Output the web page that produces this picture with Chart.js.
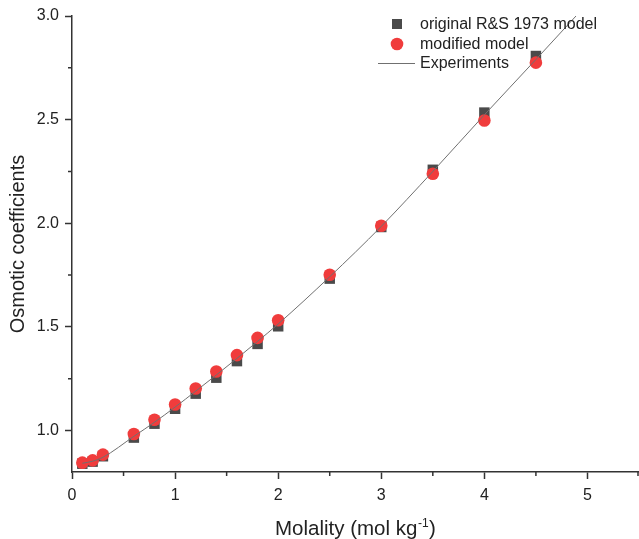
<!DOCTYPE html>
<html>
<head>
<meta charset="utf-8">
<script src="https://cdn.jsdelivr.net/npm/chart.js@4"></script>
<style>
  html, body { margin: 0; padding: 0; background: #fff; }
  canvas { display: block; }
</style>
</head>
<body>
<canvas id="osmotic" width="639" height="539"></canvas>
<script>
const FONT = "'Liberation Sans', Arial, sans-serif";

// model points (mol/kg vs osmotic coefficient)
const molality = [0.1, 0.2, 0.3, 0.6, 0.8, 1.0, 1.2, 1.4, 1.6, 1.8, 2.0, 2.5, 3.0, 3.5, 4.0, 4.5];
const originalModel = [0.840, 0.850, 0.876, 0.966, 1.033, 1.105, 1.178, 1.255, 1.335, 1.418, 1.503, 1.733, 1.982, 2.258, 2.534, 2.807];
const modifiedModel = [0.845, 0.856, 0.884, 0.983, 1.052, 1.126, 1.203, 1.285, 1.364, 1.447, 1.532, 1.752, 1.988, 2.239, 2.496, 2.775];

// experimental curve
const expMolality = [0.1, 0.2, 0.3, 0.6, 0.8, 1.0, 1.2, 1.4, 1.6, 1.8, 2.0, 2.5, 3.0, 3.5, 4.0, 4.5, 5.0];
const experiments = [0.842, 0.852, 0.871, 0.972, 1.040, 1.113, 1.190, 1.268, 1.348, 1.430, 1.514, 1.742, 1.985, 2.250, 2.523, 2.790, 3.06];

const xTicks = [0, 1, 2, 3, 4, 5];
const yTicks = [1.0, 1.5, 2.0, 2.5, 3.0];
const xMinorTicks = [0.5, 1.5, 2.5, 3.5, 4.5, 5.5];
const yMinorTicks = [1.25, 1.75, 2.25, 2.75];

const legendLabels = ["original R&S 1973 model", "modified model", "Experiments"];

const SQUARE_COLOR = "#4a4a4a";
const CIRCLE_COLOR = "#f03c3c";
const LINE_COLOR = "#707070";
const AXIS_COLOR = "#333333";

function toPoints(xs, ys) {
  return xs.map((x, i) => ({ x: x, y: ys[i] }));
}

// minor ticks, drawn outward like the major ones
const minorTicks = {
  id: "minorTicks",
  afterDraw(chart) {
    const ctx = chart.ctx;
    const xs = chart.scales.x;
    const ys = chart.scales.y;
    const area = chart.chartArea;
    ctx.save();
    ctx.strokeStyle = AXIS_COLOR;
    ctx.lineWidth = 1.5;
    ctx.beginPath();
    xMinorTicks.forEach((v) => {
      const px = Math.min(xs.getPixelForValue(v), area.right - 1);
      ctx.moveTo(px, area.bottom);
      ctx.lineTo(px, area.bottom + 4);
    });
    yMinorTicks.forEach((v) => {
      const py = ys.getPixelForValue(v);
      ctx.moveTo(area.left, py);
      ctx.lineTo(area.left - 4, py);
    });
    ctx.stroke();
    ctx.restore();
  },
};

// x axis title with a superscript unit
const xTitle = {
  id: "xTitle",
  afterDraw(chart) {
    const ctx = chart.ctx;
    ctx.save();
    ctx.fillStyle = "#222";
    ctx.textBaseline = "alphabetic";
    ctx.textAlign = "left";
    let x = 275;
    const base = 535;
    ctx.font = "20.5px " + FONT;
    const main = "Molality (mol kg";
    ctx.fillText(main, x, base);
    x += ctx.measureText(main).width;
    ctx.font = "12px " + FONT;
    ctx.fillText("-1", x + 0.5, base - 8.5);
    x += ctx.measureText("-1").width + 1;
    ctx.font = "20.5px " + FONT;
    ctx.fillText(")", x, base);
    ctx.restore();
  },
};

// legend inside the plot, top right
const insideLegend = {
  id: "insideLegend",
  afterDatasetsDraw(chart) {
    const ctx = chart.ctx;
    const mx = 397;
    const tx = 420;
    const rows = [24, 44, 63];
    ctx.save();
    ctx.fillStyle = SQUARE_COLOR;
    ctx.fillRect(mx - 5, rows[0] - 5, 10, 10);
    ctx.fillStyle = CIRCLE_COLOR;
    ctx.beginPath();
    ctx.arc(mx, rows[1], 6.3, 0, Math.PI * 2);
    ctx.fill();
    ctx.strokeStyle = LINE_COLOR;
    ctx.lineWidth = 1;
    ctx.beginPath();
    ctx.moveTo(378, rows[2] + 0.5);
    ctx.lineTo(415, rows[2] + 0.5);
    ctx.stroke();
    ctx.fillStyle = "#222";
    ctx.font = "16px " + FONT;
    ctx.textBaseline = "middle";
    legendLabels.forEach((label, i) => ctx.fillText(label, tx, rows[i] + 1));
    ctx.restore();
  },
};

new Chart(document.getElementById("osmotic"), {
  type: "scatter",
  data: {
    datasets: [
      {
        label: legendLabels[2],
        data: toPoints(expMolality, experiments),
        showLine: true,
        borderColor: LINE_COLOR,
        borderWidth: 1,
        pointRadius: 0,
        cubicInterpolationMode: "monotone",
        order: 0,
      },
      {
        label: legendLabels[1],
        data: toPoints(molality, modifiedModel),
        pointStyle: "circle",
        pointRadius: 6.3,
        backgroundColor: CIRCLE_COLOR,
        borderColor: CIRCLE_COLOR,
        borderWidth: 0,
        order: 1,
      },
      {
        label: legendLabels[0],
        data: toPoints(molality, originalModel),
        pointStyle: "rect",
        pointRadius: 7.4,
        backgroundColor: SQUARE_COLOR,
        borderColor: SQUARE_COLOR,
        borderWidth: 0,
        order: 2,
      },
    ],
  },
  options: {
    responsive: false,
    animation: false,
    events: [],
    layout: { autoPadding: false, padding: { top: 16, right: 0, left: 0, bottom: 0 } },
    plugins: {
      legend: { display: false },
      tooltip: { enabled: false },
    },
    scales: {
      x: {
        type: "linear",
        min: 0,
        max: 5.5,
        afterFit(scale) {
          scale.height = 67;
        },
        afterBuildTicks(scale) {
          scale.ticks = xTicks.map((v) => ({ value: v }));
        },
        ticks: {
          color: "#222",
          font: { family: FONT, size: 16 },
          padding: 7,
          callback: (v) => String(v),
        },
        grid: {
          drawOnChartArea: false,
          drawTicks: true,
          tickLength: 7,
          tickColor: AXIS_COLOR,
          tickWidth: 1.5,
        },
        border: { color: AXIS_COLOR, width: 1.5 },
      },
      y: {
        type: "linear",
        min: 0.8,
        max: 3.0,
        afterFit(scale) {
          scale.width = 72;
        },
        afterBuildTicks(scale) {
          scale.ticks = yTicks.map((v) => ({ value: v }));
        },
        ticks: {
          color: "#222",
          font: { family: FONT, size: 16 },
          padding: 6,
          callback: (v) => Number(v).toFixed(1),
        },
        grid: {
          drawOnChartArea: false,
          drawTicks: true,
          tickLength: 7,
          tickColor: AXIS_COLOR,
          tickWidth: 1.5,
        },
        border: { color: AXIS_COLOR, width: 1.5 },
        title: {
          display: true,
          text: "Osmotic coefficients",
          color: "#222",
          font: { family: FONT, size: 20 },
          padding: { top: 6, bottom: 0 },
        },
      },
    },
  },
  plugins: [minorTicks, xTitle, insideLegend],
});
</script>
</body>
</html>
